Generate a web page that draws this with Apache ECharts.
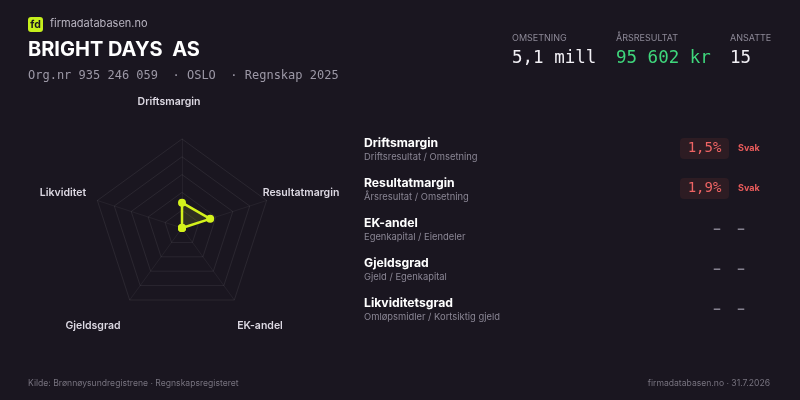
<!DOCTYPE html>
<html>
<head>
<meta charset="utf-8">
<script src="https://cdn.jsdelivr.net/npm/echarts@6/dist/echarts.min.js"></script>
<style>
html,body{margin:0;padding:0;background:#1a1620;}
#chart{width:800px;height:400px;}
</style>
</head>
<body>
<div id="chart"></div>
<script>
// ---- data ----
const companyName = 'BRIGHT DAYS  AS';
const orgLine = 'Org.nr 935 246 059  · OSLO  · Regnskap 2025';
const kpiLabels = ['OMSETNING', 'ÅRSRESULTAT', 'ANSATTE'];
const kpiValues = ['5,1 mill', '95 602 kr', '15'];
const radarLabels = ['Driftsmargin', 'Resultatmargin', 'EK-andel', 'Gjeldsgrad', 'Likviditet'];
const radarScores = [28.5, 33.3, 0, 0, 0];
const metricNames = ['Driftsmargin', 'Resultatmargin', 'EK-andel', 'Gjeldsgrad', 'Likviditetsgrad'];
const metricFormulas = ['Driftsresultat / Omsetning', 'Årsresultat / Omsetning', 'Egenkapital / Eiendeler', 'Gjeld / Egenkapital', 'Omløpsmidler / Kortsiktig gjeld'];
const metricValues = ['1,5%', '1,9%', null, null, null];
const metricRatings = ['Svak', 'Svak', null, null, null];
const sourceText = 'Kilde: Brønnøysundregistrene · Regnskapsregisteret';
const footerRight = 'firmadatabasen.no · 31.7.2026';

// ---- layout ----
const SANS = 'Inter, "Noto Sans", sans-serif';
const MONO = '"DejaVu Sans Mono", monospace';
const cx = 182, cy = 228, R = 89;
// label anchor offsets relative to the radar centre (top, then clockwise)
const labelOffsets = [[-13, -126.5], [119, -35], [78, 97.5], [-89, 97.5], [-119, -35]];

// ECharts radar goes counter-clockwise; reorder so the second item sits on the right
const order = [0].concat(radarLabels.map((_, i) => i).slice(1).reverse());
const indicator = order.map(i => ({ name: radarLabels[i], max: 100 }));
const values = order.map(i => radarScores[i]);

const g = [];
function txt(x, y, text, fill, font, align, valign) {
  g.push({ type: 'text', x: x, y: y, silent: true,
    style: { text: text, fill: fill, font: font, textAlign: align || 'left', textVerticalAlign: valign || 'middle' } });
}
// header
g.push({ type: 'rect', x: 28, y: 17, shape: { width: 15, height: 15, r: 3 }, style: { fill: '#c6ef1c' } });
txt(35.5, 24.5, 'fd', '#1a1620', 'bold 10.5px ' + SANS, 'center');
txt(50, 24, 'firmadatabasen.no', '#b8b4c0', '11px ' + SANS);
txt(28, 50, companyName, '#ffffff', 'bold 20px ' + SANS);
txt(28, 76, orgLine, '#9c98a6', '12px ' + MONO);

const kpiX = [512, 616, 730];
const kpiColors = ['#f2f0f5', '#3fd77c', '#f2f0f5'];
kpiLabels.forEach((l, i) => {
  txt(kpiX[i], 38, l, '#8d8997', '9px ' + SANS);
  txt(kpiX[i], 58, kpiValues[i], kpiColors[i], '17.5px ' + MONO);
});

// radar labels
radarLabels.forEach((l, i) => {
  txt(cx + labelOffsets[i][0], cy + labelOffsets[i][1], l, '#dcd8e2', '600 10.5px ' + SANS, 'center');
});

// metric list
metricNames.forEach((n, i) => {
  const y = 143 + i * 40;
  txt(364, y, n, '#ffffff', 'bold 12.2px ' + SANS);
  txt(364, y + 14, metricFormulas[i], '#8a8694', '9.4px ' + SANS);
  if (metricValues[i] != null) {
    g.push({ type: 'rect', x: 680, y: y - 5, shape: { width: 49, height: 21, r: 4 }, style: { fill: '#2d1c23' } });
    txt(704.5, y + 5.5, metricValues[i], '#ef6464', '14px ' + MONO, 'center');
    txt(738, y + 5, metricRatings[i], '#e85b5b', 'bold 9px ' + SANS);
  } else {
    txt(717, y + 6, '–', '#85818f', 'bold 13px ' + SANS, 'center');
    txt(741, y + 6, '–', '#85818f', 'bold 13px ' + SANS, 'center');
  }
});

// footer
txt(28, 383, sourceText, '#77737f', '8.6px ' + SANS);
txt(770, 383, footerRight, '#77737f', '8.6px ' + SANS, 'right');

const chart = echarts.init(document.getElementById('chart'), null, { renderer: 'canvas' });
chart.setOption({
  backgroundColor: '#1a1620',
  animation: false,
  radar: {
    center: [cx, cy],
    radius: R,
    startAngle: 90,
    splitNumber: 5,
    shape: 'polygon',
    indicator: indicator,
    axisName: { show: false },
    splitLine: { lineStyle: { color: 'rgba(255,255,255,0.07)', width: 1 } },
    splitArea: { show: false },
    axisLine: { lineStyle: { color: 'rgba(255,255,255,0.05)', width: 1 } },
    axisTick: { show: false },
    axisLabel: { show: false }
  },
  series: [{
    type: 'radar',
    silent: true,
    symbol: 'circle',
    symbolSize: 8,
    data: [{ value: values }],
    lineStyle: { color: '#d4f21c', width: 2.5 },
    itemStyle: { color: '#d4f21c' },
    areaStyle: { color: 'rgba(212,242,28,0.18)' }
  }],
  graphic: g
});
</script>
</body>
</html>
